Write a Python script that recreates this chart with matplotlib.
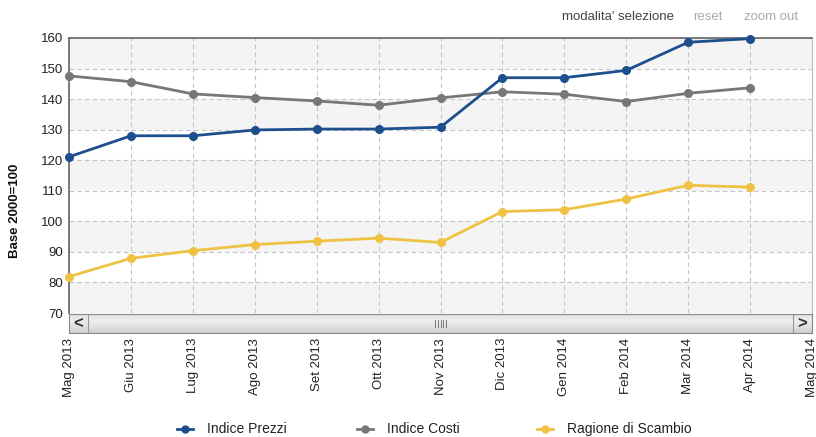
import numpy as np
import matplotlib
matplotlib.use("Agg")
import matplotlib.pyplot as plt
from matplotlib.lines import Line2D

plt.rcParams['font.family'] = ['Liberation Sans', 'DejaVu Sans']

# month labels on the x axis (last one is only a tick)
months = ['Mag 2013', 'Giu 2013', 'Lug 2013', 'Ago 2013', 'Set 2013', 'Ott 2013',
          'Nov 2013', 'Dic 2013', 'Gen 2014', 'Feb 2014', 'Mar 2014', 'Apr 2014',
          'Mag 2014']

indice_prezzi = [121.1, 128.0, 128.0, 129.9, 130.2, 130.2, 130.8,
                 147.0, 147.0, 149.4, 158.6, 159.8]
indice_costi = [147.6, 145.7, 141.7, 140.5, 139.4, 138.0, 140.4,
                142.4, 141.6, 139.2, 141.9, 143.7]
ragione_scambio = [81.9, 87.9, 90.4, 92.4, 93.5, 94.5, 93.1,
                   103.2, 103.8, 107.3, 111.8, 111.2]

y_ticks = [70, 80, 90, 100, 110, 120, 130, 140, 150, 160]

W, H = 816, 437
fig = plt.figure(figsize=(W / 100, H / 100), dpi=100)

def fx(px):
    return px / W

def fy(py):
    return 1 - py / H

left, right, top, bottom = 69, 812, 38, 313
ax = fig.add_axes([fx(left), fy(bottom), fx(right - left), fy(top) - fy(bottom)])

# alternating bands, grey from the top down
for i in range(len(y_ticks) - 1):
    lo, hi = y_ticks[i], y_ticks[i + 1]
    if (len(y_ticks) - 2 - i) % 2 == 0:
        ax.axhspan(lo, hi, color='#f4f4f4', zorder=0, lw=0)

x = np.arange(len(indice_prezzi))
series = [
    (indice_prezzi, '#1d4f8f', 'Indice Prezzi'),
    (indice_costi, '#777777', 'Indice Costi'),
    (ragione_scambio, '#f0c244', 'Ragione di Scambio'),
]
for vals, col, lab in [series[1], series[0], series[2]]:
    ax.plot(x, vals, color=col, lw=2, marker='o', ms=5.5, zorder=3, clip_on=False)

ax.set_xlim(0, len(months) - 1)
ax.set_ylim(70, 160)
ax.set_yticks(y_ticks)
ax.set_xticks(np.arange(len(months)))
ax.set_xticklabels([])
ax.tick_params(axis='y', length=0, labelsize=9.5, labelcolor='#222222', pad=4)
ax.tick_params(axis='x', length=0)
ax.grid(True, color='#c4c4c4', ls=(0, (4, 3)), lw=0.8)
ax.set_axisbelow(True)
for s in ['top', 'left']:
    ax.spines[s].set_color('#666666')
    ax.spines[s].set_linewidth(1.2)
ax.spines['right'].set_color('#bbbbbb')
ax.spines['bottom'].set_visible(False)

ax.set_ylabel('Base 2000=100', fontsize=9.5, color='#111111', fontweight='bold')
ax.yaxis.set_label_coords(-0.064, 0.37)

# scrollbar under the plot
sb = fig.add_axes([fx(left), fy(333), fx(right - left), fy(314) - fy(333)])
grad = np.linspace(0, 1, 50).reshape(-1, 1)
sb.imshow(0.93 - 0.2 * np.abs(grad - 0.35) ** 1.2, cmap='gray', vmin=0, vmax=1,
          aspect='auto', extent=[0, 1, 0, 1])
sb.set_xlim(0, 1)
sb.set_ylim(0, 1)
sb.set_xticks([])
sb.set_yticks([])
for s in sb.spines.values():
    s.set_color('#888888')
    s.set_linewidth(0.8)
bw = 19 / (right - left)
sb.axvline(bw, color='#999999', lw=0.8)
sb.axvline(1 - bw, color='#999999', lw=0.8)
sb.text(bw / 2, 0.5, '<', ha='center', va='center', fontsize=12, color='#333333',
        fontweight='bold')
sb.text(1 - bw / 2, 0.5, '>', ha='center', va='center', fontsize=12, color='#333333',
        fontweight='bold')
for k in range(-2, 3):
    sb.plot([0.5 + k * 0.0035] * 2, [0.3, 0.7], color='#777777', lw=0.7)

# x labels
for i, m in enumerate(months):
    px = left + i * (right - left) / (len(months) - 1)
    fig.text(fx(px), fy(338), m, rotation=90, ha='center', va='top',
             fontsize=9.5, color='#222222')

# header links
fig.text(fx(562), fy(17), "modalita' selezione", fontsize=9.5, color='#444444', va='center')
fig.text(fx(693), fy(17), 'reset', fontsize=9.5, color='#aaaaaa', va='center')
fig.text(fx(744), fy(17), 'zoom out', fontsize=9.5, color='#aaaaaa', va='center')

# legend
for (vals, col, lab), mx in zip(series, [185, 365, 545]):
    fig.add_artist(Line2D([fx(mx - 8), fx(mx + 8)], [fy(429), fy(429)], color=col,
                          lw=2, transform=fig.transFigure))
    fig.add_artist(Line2D([fx(mx)], [fy(429)], color=col, marker='o', ms=5,
                          transform=fig.transFigure))
    fig.text(fx(mx + 22), fy(429), lab, fontsize=10, color='#222222', va='center')

fig.savefig('out.png', dpi=100)
